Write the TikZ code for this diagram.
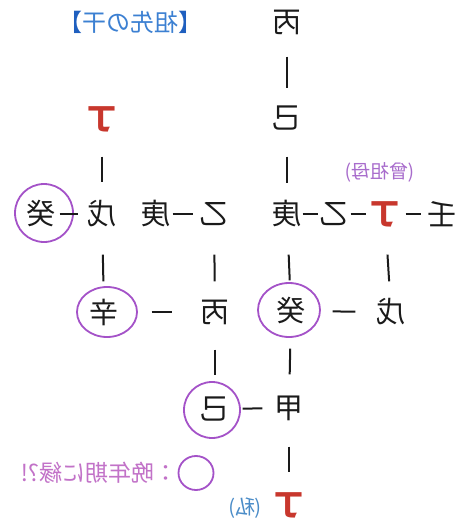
\documentclass[tikz,border=0pt]{standalone}
\usepackage{fontspec}
\usepackage{graphicx}
\setmainfont{Noto Sans CJK JP}
\usetikzlibrary{shapes.geometric}
\definecolor{ink}{HTML}{1A1A1A}
\definecolor{kred}{HTML}{C8372D}
\definecolor{kpurple}{HTML}{A452C8}
\definecolor{tblue}{HTML}{3C80D2}
\definecolor{tbracket}{HTML}{1F5FBF}
\definecolor{lpurple}{HTML}{A86CCC}
\definecolor{lpink}{HTML}{C272C8}
\definecolor{mblue}{HTML}{4A8CC8}
\begin{document}
\begin{tikzpicture}[x=1pt,y=-1pt,
  gan/.style={inner sep=0pt, minimum size=29pt, font=\fontsize{29}{29}\selectfont, text=ink},
  redgan/.style={gan, text=kred, font=\fontsize{29}{29}\selectfont\bfseries},
  ring/.style={ellipse, draw=kpurple, line width=1.8pt, inner sep=0pt},
  con/.style={draw=ink, line width=2pt},
  vcon/.style={con, shorten <=23pt, shorten >=17pt},
  v23/.style={con, shorten <=26pt, shorten >=16pt},
]
\useasboundingbox (0,0) rectangle (474,524);
\fill[white] (0,0) rectangle (474,524);

% rings
\node[ring, minimum width=58pt, minimum height=58pt] (r1) at (44,213) {};
\node[ring, minimum width=60pt, minimum height=50pt] (r2) at (107,312) {};
\node[ring, minimum width=62pt, minimum height=54pt] (r3) at (289,310) {};
\node[ring, minimum width=56pt, minimum height=56pt] (r4) at (212,410) {};
\node[ring, minimum width=35pt, minimum height=34pt] (r5) at (196,473) {};

% stems
\node[gan] (bing1) at (287,22) {\reflectbox{丙}};
\node[gan] (ji1) at (287,118) {\reflectbox{己}};
\node[redgan] (ding1) at (102,119) {\reflectbox{丁}};

\node[gan] (gui1) at (41,214) {\reflectbox{癸}};
\node[gan] (wu1) at (102,214) {\reflectbox{戊}};
\node[gan] (geng1) at (156,214) {\reflectbox{庚}};
\node[gan] (yi1) at (214,214) {\reflectbox{乙}};
\node[gan] (geng2) at (287,214) {\reflectbox{庚}};
\node[gan] (yi2) at (334,214) {\reflectbox{乙}};
\node[redgan] (ding2) at (385,214) {\reflectbox{丁}};
\node[gan] (ren) at (442,214) {\reflectbox{壬}};

\node[gan] (xin) at (104,312) {\reflectbox{辛}};
\node[gan] (bing2) at (215,312) {\reflectbox{丙}};
\node[gan] (gui2) at (291,311) {\reflectbox{癸}};
\node[gan] (wu2) at (391,312) {\reflectbox{戊}};

\node[gan] (ji2) at (215,409) {\reflectbox{己}};
\node[gan] (jia) at (289,408) {\reflectbox{甲}};

\node[redgan] (ding3) at (289,505) {\reflectbox{丁}};

% labels
\node[font=\fontsize{24}{24}\selectfont, text=tblue, inner sep=0pt] (title) at (130,22)
  {\reflectbox{\textcolor{tbracket}{【}祖先の干\textcolor{tbracket}{】}}};
\node[font=\fontsize{19}{19}\selectfont, text=lpurple, inner sep=0pt] (sobo) at (380,172) {\reflectbox{(曾祖母)}};
\node[font=\fontsize{20}{20}\selectfont, text=mblue, inner sep=0pt] (watashi) at (245,508) {\reflectbox{(私)}};
\node[font=\fontsize{23}{23}\selectfont, text=lpink, inner sep=0pt, anchor=east] (legend) at (178,473)
  {\reflectbox{：晩年期に縁?!}};

% vertical connectors
\draw[con, shorten <=20pt, shorten >=15pt] (bing1) -- (ji1);
\draw[con, shorten <=24pt, shorten >=16pt] (ji1) -- (geng2);
\draw[vcon] (ding1) -- (wu1);
\draw[v23] (wu1) -- (xin);
\draw[v23] (yi1) -- (bing2);
\draw[v23] (geng2) -- (gui2);
\draw[v23] (ding2) -- (wu2);
\draw[con, shorten <=23pt, shorten >=19pt] (bing2) -- (ji2);
\draw[con, shorten <=23pt, shorten >=19pt] (gui2) -- (jia);
\draw[con, shorten <=24pt, shorten >=18pt] (jia) -- (ding3);

% horizontal connectors
\draw[con, shorten <=4pt, shorten >=9pt] (gui1) -- (wu1);
\draw[con, shorten <=2pt, shorten >=6pt] (geng1) -- (yi1);
\draw[con, shorten <=1pt, shorten >=1pt] (geng2) -- (yi2);
\draw[con, shorten <=2pt, shorten >=4pt] (yi2) -- (ding2);
\draw[con, shorten <=6pt, shorten >=6pt] (ding2) -- (ren);
\draw[con, shorten <=33pt, shorten >=28pt] (xin) -- (bing2);
\draw[con, shorten <=27pt, shorten >=21pt] (gui2) -- (wu2);
\draw[con, shorten <=13pt, shorten >=12pt] (ji2) -- (jia);
\end{tikzpicture}
\end{document}
